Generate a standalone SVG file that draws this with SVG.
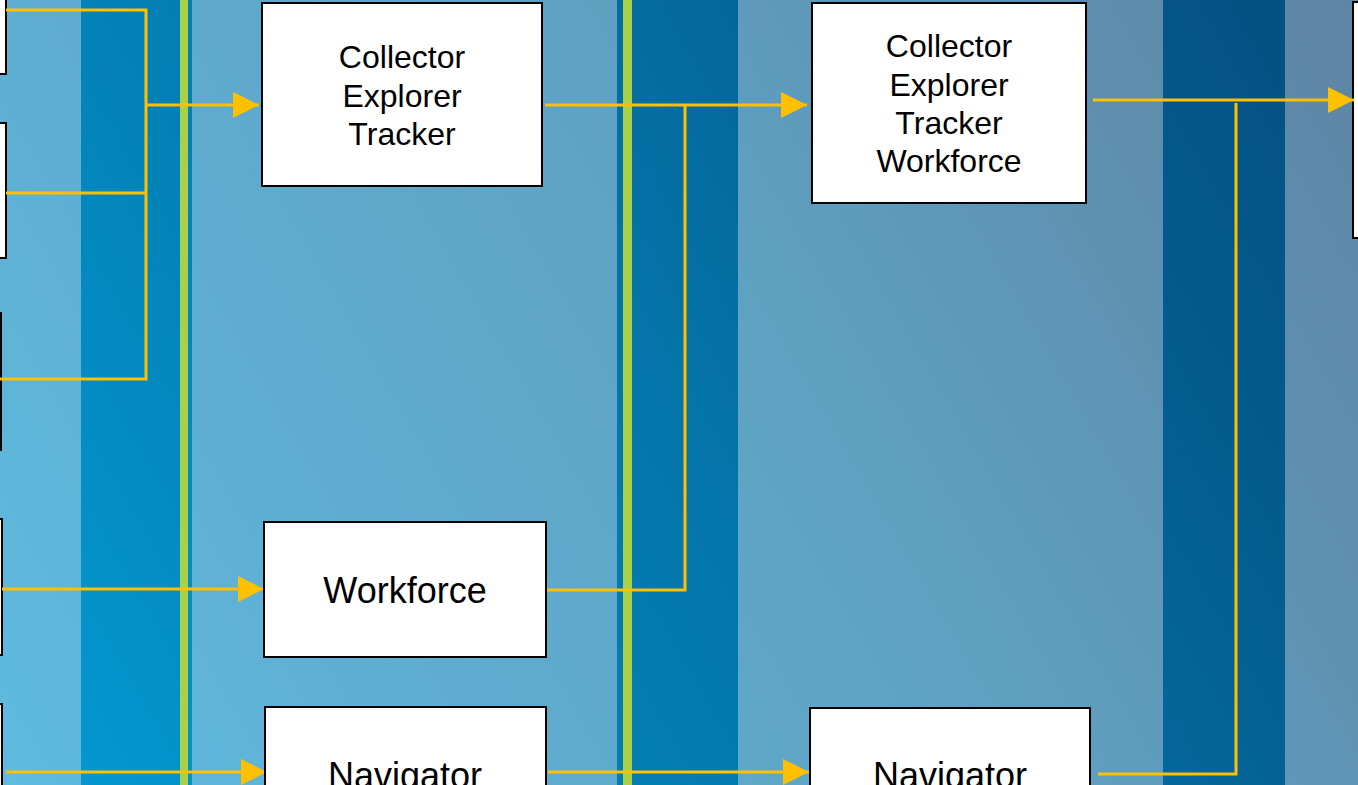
<svg xmlns="http://www.w3.org/2000/svg" width="1358" height="785" viewBox="0 0 1358 785">
<defs>
<linearGradient id="bg" gradientUnits="userSpaceOnUse" x1="0" y1="785" x2="1358" y2="0">
<stop offset="0" stop-color="#5fbbdf"/>
<stop offset="0.3" stop-color="#5eaccf"/>
<stop offset="0.55" stop-color="#5fa2c3"/>
<stop offset="0.85" stop-color="#5e8dae"/>
<stop offset="1" stop-color="#5e85a5"/>
</linearGradient>
<linearGradient id="band" gradientUnits="userSpaceOnUse" x1="0" y1="785" x2="1358" y2="0">
<stop offset="0" stop-color="#039bd2"/>
<stop offset="0.33" stop-color="#037fb4"/>
<stop offset="0.5" stop-color="#0474a9"/>
<stop offset="0.8" stop-color="#045a8d"/>
<stop offset="1" stop-color="#044e80"/>
</linearGradient>
<marker id="arr" markerUnits="userSpaceOnUse" markerWidth="26" markerHeight="26" refX="26" refY="13" orient="auto">
<path d="M0,0 L26,13 L0,26 Z" fill="#ffc000"/>
</marker>
<style>
.box{fill:#ffffff;stroke:#000000;stroke-width:2}
.t{font-family:"Liberation Sans",Arial,sans-serif;font-size:32px;fill:#000000;text-anchor:middle}
.t36{font-size:36px}
.c{fill:none;stroke:#ffc000;stroke-width:3}
.a{marker-end:url(#arr)}
.green{fill:#a8d048}
</style>
</defs>
<rect x="0" y="0" width="1358" height="785" fill="url(#bg)"/>
<g id="bands">
<rect x="81" y="0" width="111" height="785" fill="url(#band)"/>
<rect x="617" y="0" width="121" height="785" fill="url(#band)"/>
<rect x="1163" y="0" width="122" height="785" fill="url(#band)"/>
<rect class="green" x="180" y="0" width="8" height="785"/>
<rect class="green" x="623" y="0" width="9" height="785"/>
</g>
<g id="left1"><rect class="box" x="-100" y="-10" width="106" height="84"/></g>
<g id="left2"><rect class="box" x="-100" y="123" width="106" height="135"/></g>
<g id="left3"><rect class="box" x="-100" y="313" width="101" height="137"/></g>
<g id="left4"><rect class="box" x="-100" y="519" width="102" height="136"/></g>
<g id="left5"><rect class="box" x="-100" y="704" width="102" height="100"/></g>
<g id="right1"><rect class="box" x="1353" y="2" width="100" height="236"/></g>
<g id="connectors">
<polyline class="c" points="6,10 146,10 146,379 0,379"/>
<line class="c" x1="6" y1="193" x2="146" y2="193"/>
<line class="c a" x1="146" y1="105" x2="259" y2="105"/>
<line class="c a" x1="2" y1="589" x2="264" y2="589"/>
<line class="c a" x1="6" y1="772" x2="267" y2="772"/>
<line class="c a" x1="545" y1="105" x2="807" y2="105"/>
<polyline class="c" points="685,105 685,590 545,590"/>
<line class="c a" x1="548" y1="772" x2="809" y2="772"/>
<line class="c a" x1="1093" y1="100" x2="1354" y2="100"/>
<polyline class="c" points="1236,103 1236,774 1098,774"/>
</g>
<g id="node-cet">
<rect class="box" x="262" y="3" width="280" height="183"/>
<text class="t" x="402" y="68">Collector</text>
<text class="t" x="402" y="107">Explorer</text>
<text class="t" x="402" y="145">Tracker</text>
</g>
<g id="node-workforce">
<rect class="box" x="264" y="522" width="282" height="135"/>
<text class="t t36" x="405" y="603">Workforce</text>
</g>
<g id="node-navigator1">
<rect class="box" x="265" y="707" width="281" height="100"/>
<text class="t t36" x="405" y="788">Navigator</text>
</g>
<g id="node-cetw">
<rect class="box" x="812" y="3" width="274" height="200"/>
<text class="t" x="949" y="57">Collector</text>
<text class="t" x="949" y="96">Explorer</text>
<text class="t" x="949" y="134">Tracker</text>
<text class="t" x="949" y="172">Workforce</text>
</g>
<g id="node-navigator2">
<rect class="box" x="810" y="708" width="280" height="100"/>
<text class="t t36" x="950" y="788">Navigator</text>
</g>
</svg>
